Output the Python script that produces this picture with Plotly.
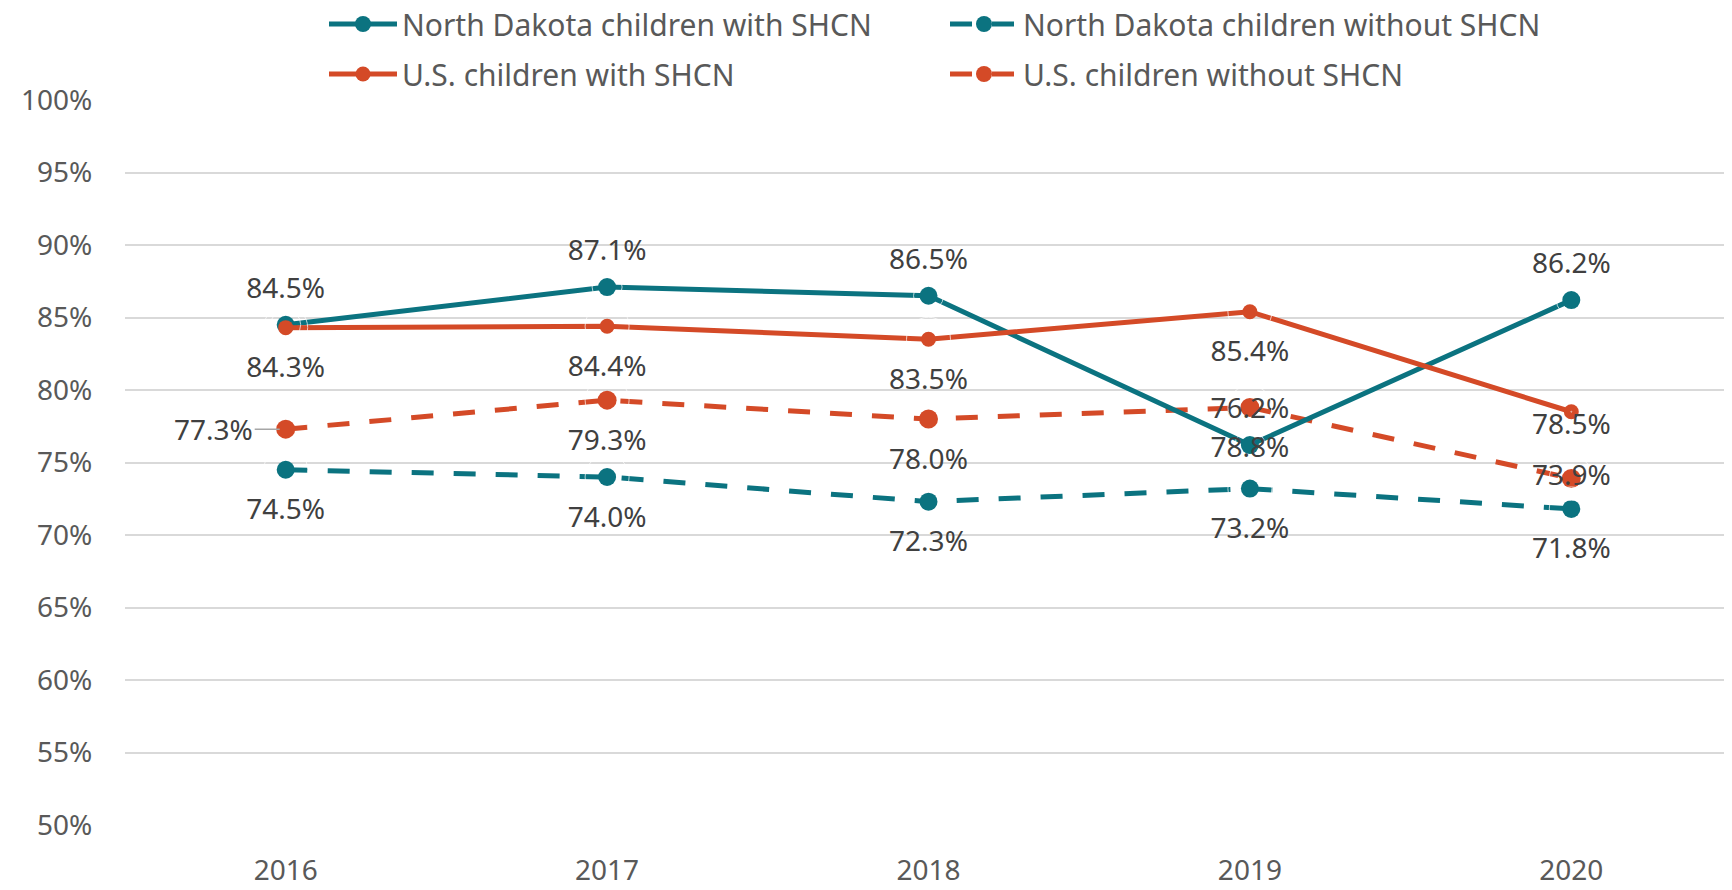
import plotly.graph_objects as go

years = ["2016", "2017", "2018", "2019", "2020"]
nd_with = [84.5, 87.1, 86.5, 76.2, 86.2]
nd_without = [74.5, 74.0, 72.3, 73.2, 71.8]
us_with = [84.3, 84.4, 83.5, 85.4, 78.5]
us_without = [77.3, 79.3, 78.0, 78.8, 73.9]
y_ticks = [50, 55, 60, 65, 70, 75, 80, 85, 90, 95, 100]
y_tick_labels = [f"{v}%" for v in y_ticks]

TEAL = "#0b7380"
ORANGE = "#d44a27"
FONT = "Noto Sans"
LABEL_COLOR = "#404040"
TICK_COLOR = "#595959"
FS = 28
LEG_FS = 30
W, H = 1724, 882  # page body has an 8px margin

def lbl(vals):
    return [f"{v:.1f}%" for v in vals]

fig = go.Figure()

series = [
    # name, values, color, dash, marker size, legend, rank
    ("North Dakota children without SHCN", nd_without, TEAL, "22px,20px", 18, "legend", 2),
    ("U.S. children without SHCN", us_without, ORANGE, "22px,20px", 19, "legend2", 4),
    ("North Dakota children with SHCN", nd_with, TEAL, "solid", 18, "legend", 1),
    ("U.S. children with SHCN", us_with, ORANGE, "solid", 15, "legend2", 3),
]
for name, vals, color, dash, msize, leg, rank in series:
    fig.add_trace(go.Scatter(
        x=years, y=vals, name=name, mode="lines+markers",
        line=dict(color=color, width=5, dash=dash),
        marker=dict(size=msize, color=color),
        legend=leg, legendrank=rank, cliponaxis=False,
    ))

# data labels (invisible spacer markers control the label distance)
us_wo_text = lbl(us_without)
us_wo_text[0] = ""
labels = [
    (nd_with, lbl(nd_with), "top center", [30] * 5),
    (us_with, lbl(us_with), "bottom center", [44, 44, 44, 44, 1]),
    (nd_without, lbl(nd_without), "bottom center", [44] * 5),
    (us_without, us_wo_text,
     ["middle left", "bottom center", "bottom center", "bottom center", "middle center"],
     [44] * 5),
]
for vals, txt, pos, sizes in labels:
    fig.add_trace(go.Scatter(
        x=years, y=vals, mode="markers+text", text=txt, textposition=pos,
        marker=dict(size=sizes, color="rgba(0,0,0,0)"),
        textfont=dict(family=FONT, size=FS, color=LABEL_COLOR),
        showlegend=False, hoverinfo="skip", cliponaxis=False,
    ))

# label with leader line for first US-without point
fig.add_annotation(
    x=0, y=us_without[0], xref="x", yref="y", text=f"{us_without[0]:.1f}%",
    showarrow=True, arrowhead=0, arrowcolor="#a6a6a6", arrowwidth=1.5,
    ax=-72, ay=0, standoff=6,
    font=dict(family=FONT, size=FS, color=LABEL_COLOR),
)

leg_common = dict(
    orientation="h", xanchor="left", yanchor="middle",
    xref="container", yref="container", x=316 / W,
    entrywidth=538, entrywidthmode="pixels",
    font=dict(family=FONT, size=LEG_FS, color=TICK_COLOR),
    itemwidth=68, bgcolor="rgba(0,0,0,0)",
)

fig.update_layout(
    width=W, height=H,
    margin=dict(l=117, r=0, t=92, b=65, autoexpand=False),
    plot_bgcolor="white", paper_bgcolor="white",
    font=dict(family=FONT, size=FS, color=TICK_COLOR),
    showlegend=True,
    legend=dict(leg_common, y=1 - 16 / H),
    legend2=dict(leg_common, y=1 - 66 / H),
    xaxis=dict(
        type="category", range=[-0.5, 4.5], showgrid=False, zeroline=False,
        showline=False, ticks="outside", ticklen=20, tickcolor="rgba(0,0,0,0)",
        tickfont=dict(family=FONT, size=FS, color=TICK_COLOR),
    ),
    yaxis=dict(
        range=[50, 100], tickvals=y_ticks, ticktext=y_tick_labels,
        showgrid=True, gridcolor="#d9d9d9", gridwidth=1.5, zeroline=False,
        showline=False, ticks="outside", ticklen=26, tickcolor="rgba(0,0,0,0)",
        tickfont=dict(family=FONT, size=FS, color=TICK_COLOR),
    ),
)

fig.write_html("out.html")
